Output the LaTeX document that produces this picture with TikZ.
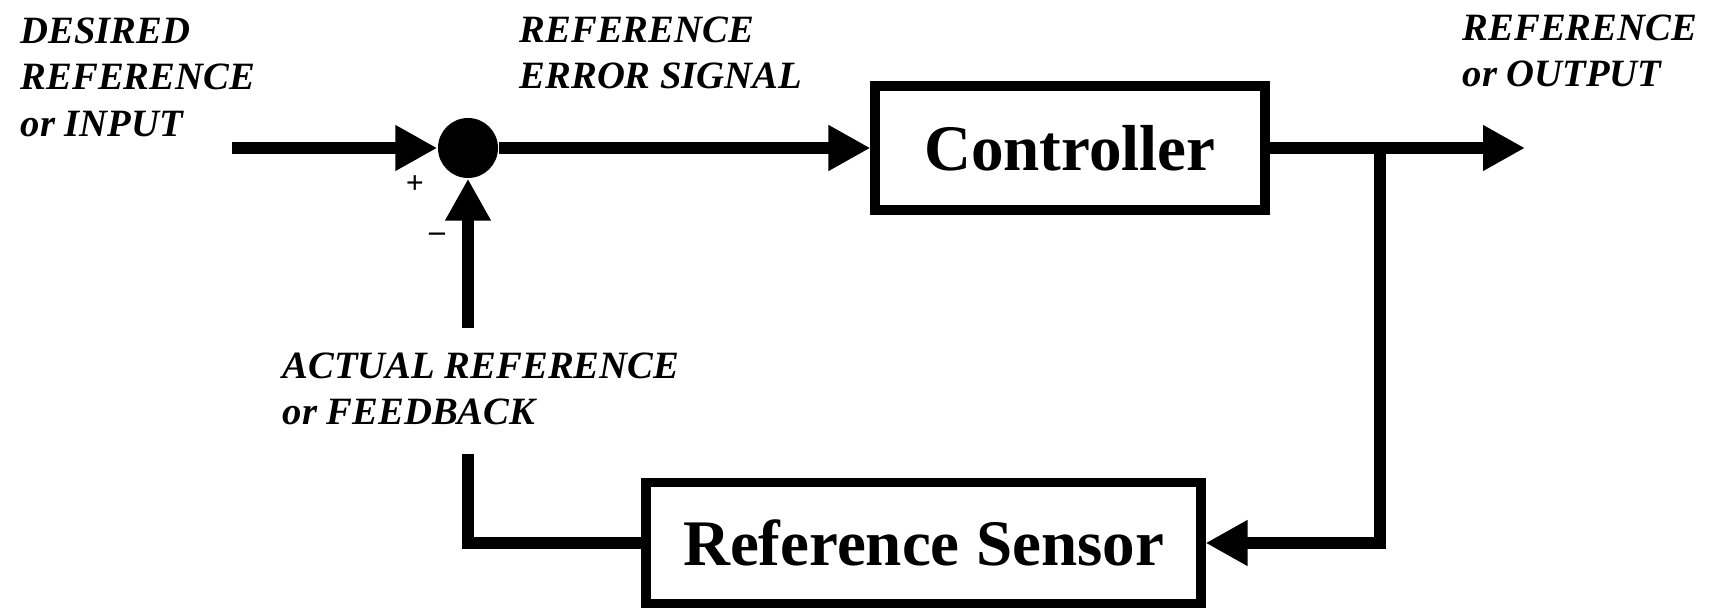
\documentclass[tikz,border=0pt]{standalone}
\usepackage{fontspec}
\setmainfont{Liberation Serif}
\usetikzlibrary{arrows.meta}

\begin{document}
\begin{tikzpicture}[
    wire/.style={line width=3.5pt},
    flow/.style={wire, -{Triangle[length=4.2mm,width=4.3mm]}},
    block/.style={draw, line width=2.6pt, font=\fontsize{18.5}{22}\selectfont\bfseries},
    tag/.style={anchor=north west, inner sep=0pt, align=left, font=\fontsize{11}{13.2}\selectfont\bfseries\itshape}
  ]
    \useasboundingbox (0,0) rectangle (17.16,6.09);
    \node[circle, fill, minimum size=0.6cm, inner sep=0pt] (sum) at (4.68,4.61) {};
    \node[block, minimum width=3.9cm, minimum height=1.24cm] (ctrl) at (10.70,4.61) {Controller};
    \node[block, minimum width=5.55cm, minimum height=1.21cm] (sensor) at (9.235,0.66) {Reference Sensor};
    \coordinate (in) at (2.32,4.61);
    \coordinate (out) at (15.25,4.61);
    \coordinate (branch) at (13.80,4.61);
    \coordinate (fblow) at (4.68,1.55);
    \coordinate (fbhigh) at (4.68,2.81);
    \node[tag] (desired) at (0.20,5.92) {DESIRED\\REFERENCE\\or INPUT};
    \node[tag] (error) at (5.19,5.93) {REFERENCE\\ERROR SIGNAL};
    \node[tag] (output) at (14.62,5.95) {REFERENCE\\or OUTPUT};
    \node[tag] (actual) at (2.82,2.57) {ACTUAL REFERENCE\\or FEEDBACK};
    \node[font=\small\bfseries] (plus) at (4.15,4.24) {+};
    \node[font=\small\bfseries] (minus) at (4.37,3.72) {--};
    \draw[flow] (in) -- (sum);
    \draw[flow] (sum) -- (ctrl);
    \draw[flow] (ctrl) -- (out);
    \draw[flow] (branch) |- (sensor.east);
    \draw[wire] (sensor.west) -| (fblow);
    \draw[flow] (fbhigh) -- (sum);
\end{tikzpicture}
\end{document}
